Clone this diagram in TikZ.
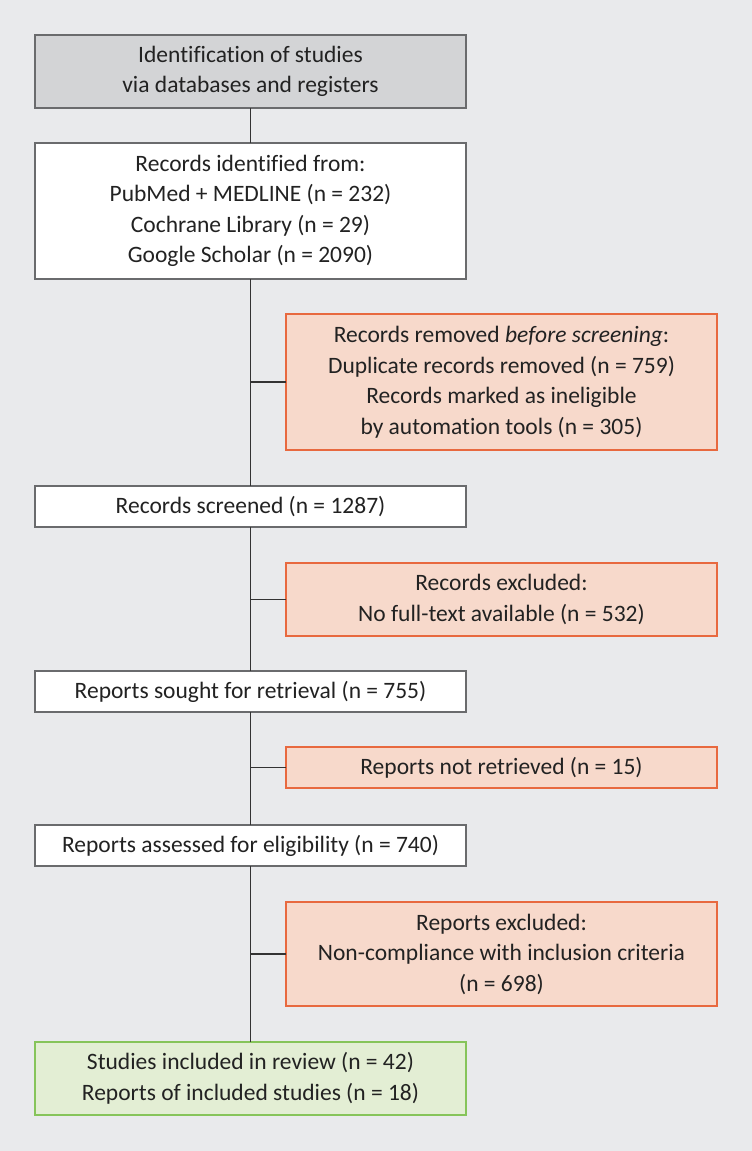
\documentclass[tikz,border=0pt]{standalone}
\usepackage{fontspec}
\setmainfont{Carlito}[Ligatures=CommonOff]
\usepackage{tikz}
\usetikzlibrary{positioning}
\definecolor{bggray}{HTML}{E9EAEC}
\definecolor{headgray}{HTML}{D3D4D6}
\definecolor{framegray}{HTML}{6A6B6D}
\definecolor{pastelsalmon}{HTML}{F7D9CB}
\definecolor{salmonline}{HTML}{E8693F}
\definecolor{pastelgreen}{HTML}{E3EED4}
\definecolor{greenline}{HTML}{86C45A}
\definecolor{inktext}{HTML}{222222}

\begin{document}
\begin{tikzpicture}[
    box/.style={rectangle, draw=framegray, line width=1.3pt, minimum width=431pt, minimum height=41pt, align=center, text=inktext, font=\fontsize{23.5}{30.5}\selectfont, inner sep=0pt, outer sep=0pt},
    head/.style={box, fill=headgray, minimum height=73pt},
    stage/.style={box, fill=white},
    excl/.style={box, draw=salmonline, fill=pastelsalmon},
    incl/.style={box, draw=greenline, fill=pastelgreen, minimum height=73pt},
    link/.style={draw=black!80, line width=1.2pt},
]

% Background
\fill[bggray] (0pt,0pt) rectangle (752pt,-1151pt);
\useasboundingbox (0pt,0pt) rectangle (752pt,-1151pt);

% Main column
\node[head] (top) at (250.5pt,-71.5pt) {Identification of studies\\via databases and registers};
\node[stage, minimum height=136pt, below=35pt of top] (ident) {Records identified from:\\PubMed + MEDLINE (n = 232)\\Cochrane Library (n = 29)\\Google Scholar (n = 2090)};
\node[stage, below=207pt of ident] (screen) {Records screened (n = 1287)};
\node[stage, below=144pt of screen] (sought) {Reports sought for retrieval (n = 755)};
\node[stage, below=113pt of sought] (assess) {Reports assessed for eligibility (n = 740)};
\node[incl, below=176pt of assess] (included) {Studies included in review (n = 42)\\Reports of included studies (n = 18)};

% Exclusion boxes
\node[excl, minimum height=136pt, below right=35pt and 35.5pt of ident.south] (removed) {Records removed \textit{before screening}:\\Duplicate records removed (n = 759)\\Records marked as ineligible\\by automation tools (n = 305)};
\node[excl, minimum height=73pt, below right=36pt and 35.5pt of screen.south] (recexcl) {Records excluded:\\No full-text available (n = 532)};
\node[excl, below right=35pt and 35.5pt of sought.south] (notret) {Reports not retrieved (n = 15)};
\node[excl, minimum height=104pt, below right=36pt and 35.5pt of assess.south] (repexcl) {Reports excluded:\\Non-compliance with inclusion criteria\\(n = 698)};

% Trunk
\draw[link] (top) -- (ident);
\draw[link] (ident) -- (screen);
\draw[link] (screen) -- (sought);
\draw[link] (sought) -- (assess);
\draw[link] (assess) -- (included);

% Side branches
\draw[link] (removed.west) -- (removed.west -| ident.south);
\draw[link] (recexcl.west) -- (recexcl.west -| screen.south);
\draw[link] (notret.west) -- (notret.west -| sought.south);
\draw[link] (repexcl.west) -- (repexcl.west -| assess.south);

\end{tikzpicture}
\end{document}
